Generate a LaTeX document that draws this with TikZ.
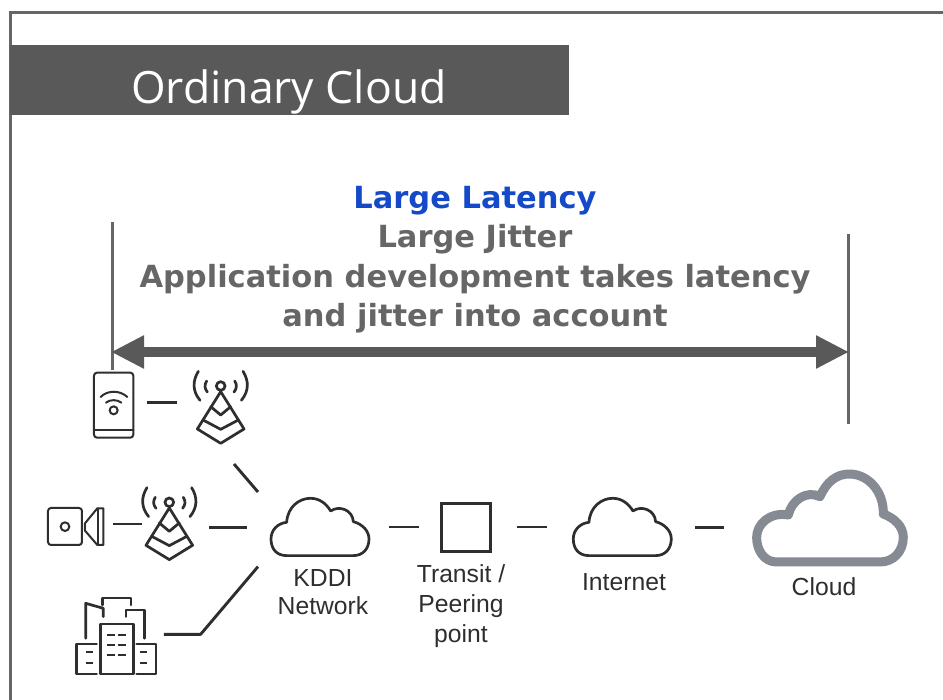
\documentclass[tikz,border=0pt]{standalone}
\usepackage{fontspec}
\setmainfont{Liberation Sans}
\newfontfamily\dv{DejaVu Sans}
\newfontfamily\os{Open Sans}
\usetikzlibrary{arrows.meta}
\definecolor{barc}{HTML}{595959}
\definecolor{framec}{HTML}{666666}
\definecolor{iconc}{HTML}{2E2E2E}
\definecolor{bluec}{HTML}{1449C8}
\definecolor{bigc}{HTML}{868A92}
\newcommand{\pxfont}[2]{\fontsize{#1}{#2}\selectfont}
\tikzset{
  x=1pt,y=-1pt,
  icon/.style={draw=iconc,line width=2.7pt,line join=round,line cap=round,fill=none},
  thinicon/.style={draw=iconc,line width=2pt,line join=round,line cap=round,fill=none},
  winicon/.style={draw=iconc,line width=2.2pt},
  link/.style={draw=iconc,line width=2.9pt,line join=round},
  rule/.style={draw=framec,line width=3pt},
  headline/.style={font=\dv\bfseries\pxfont{30.5}{30.5},text=framec,anchor=center,inner sep=0},
  caption/.style={font=\pxfont{24.7}{28},text=iconc,align=center,inner sep=0,anchor=center},
  tower/.pic={
    \begin{scope}[x=0.3333pt,y=-0.3333pt]
    \draw[icon] (0,0) circle (13);
    \draw[icon] (0,17) -- (-70,129) -- (0,172) -- (70,129) -- cycle;
    \draw[icon] (-30,62) -- (0,87) -- (30,62);
    \draw[icon] (-53,102) -- (0,130) -- (53,102);
    \draw[icon] (-42,-15) .. controls (-50,-3) and (-48,8) .. (-40,18);
    \draw[icon] (42,-15) .. controls (50,-3) and (48,8) .. (40,18);
    \draw[icon] (-67,-44) .. controls (-85,-15) and (-85,15) .. (-62,43);
    \draw[icon] (67,-44) .. controls (85,-15) and (85,15) .. (62,43);
    \end{scope}
  },
  smallcloud/.pic={
    \begin{scope}[x=0.3333pt,y=-0.3333pt]
    \draw[icon] (47,172) .. controls (15,172) and (0,150) .. (0,122)
      .. controls (0,95) and (20,75) .. (47,72)
      .. controls (50,25) and (85,0) .. (118,0)
      .. controls (145,0) and (165,15) .. (179,38)
      .. controls (205,20) and (245,35) .. (247,70)
      .. controls (275,78) and (294,98) .. (294,122)
      .. controls (294,152) and (275,172) .. (247,172) -- cycle;
    \end{scope}
  }
}
\begin{document}
\begin{tikzpicture}
\useasboundingbox (0,0) rectangle (943,700);
\fill[white] (0,0) rectangle (943,700);
% frame
\draw[rule] (10.5,700) -- (10.5,12.3) -- (943,12.3);
% title bar
\node[fill=barc,minimum width=559.5pt,minimum height=70pt,inner sep=0,anchor=north west] (bar) at (9.5,45) {};
\node[font=\os\pxfont{44.5}{44.5},text=white,inner sep=0,anchor=center] (title) at (289,91.5) {Ordinary Cloud};
% headings
\node[headline,text=bluec] (h1) at (475,200.5) {Large Latency};
\node[headline] (h2) at (475,239.5) {Large Jitter};
\node[headline] (h3) at (475,279.5) {Application development takes latency};
\node[headline] (h4) at (475,318.5) {and jitter into account};
% span
\coordinate (ltop) at (112,222); \coordinate (lbot) at (112,370);
\coordinate (rtop) at (848,234); \coordinate (rbot) at (848,424);
\coordinate (al) at (111,352); \coordinate (ar) at (849,352);
\draw[rule] (ltop) -- (lbot);
\draw[rule] (rtop) -- (rbot);
\draw[draw=barc,line width=10pt,{Triangle[width=31pt,length=33pt]}-{Triangle[width=31pt,length=33pt]}] (al) -- (ar);
% phone
\begin{scope}[shift={(30,360)},x=0.3333pt,y=-0.3333pt]
\draw[thinicon,rounded corners=3pt] (192,38) rectangle (310,233);
\draw[thinicon] (192,210) -- (310,210);
\draw[thinicon] (251,151) circle (12);
\draw[thinicon] (228,128) .. controls (240,118) and (262,118) .. (274,128);
\draw[thinicon] (212,111) .. controls (232,90) and (270,90) .. (292,111);
% camera
\draw[thinicon,rounded corners=3pt] (54,444) rectangle (156,555);
\draw[thinicon] (105,500) circle (13);
\draw[thinicon] (220,445) -- (220,555) -- (202,555) -- (165,512) -- (165,490) -- (202,445) -- cycle;
\draw[thinicon] (204,445) -- (204,555);
% buildings
\draw[icon] (211,792) rectangle (310,942);
\draw[icon] (200,852) -- (140,852) -- (140,942) -- (200,942);
\draw[icon] (320,852) -- (378,852) -- (378,942) -- (320,942);
\draw[icon] (167,835) -- (167,730) -- (220,745) -- (220,770);
\draw[icon] (217,735) -- (217,714) -- (303,714) -- (303,735);
\draw[icon] (288,770) -- (288,750) -- (343,750) -- (343,835);
\foreach \yy in {826,855,884} {
  \draw[winicon] (232,\yy) -- (256,\yy);
  \draw[winicon] (264,\yy) -- (288,\yy);
}
\foreach \yy in {877,908} {
  \draw[winicon] (167,\yy) -- (188,\yy);
  \draw[winicon] (331,\yy) -- (352,\yy);
}
\end{scope}
% towers
\pic at (220.7,386) {tower};
\pic at (169.3,502.3) {tower};
% clouds and square
\pic at (271,498.3) {smallcloud};
\pic at (573.3,498.3) {smallcloud};
\node[draw=iconc,line width=2.8pt,minimum size=48.5pt,inner sep=0] (transit) at (466,527.5) {};
\draw[draw=bigc,line width=9pt,line join=round,shift={(560,450)},x=0.3333pt,y=-0.3333pt]
  (650,336) .. controls (612,336) and (590,300) .. (590,262)
  .. controls (590,222) and (630,185) .. (685,195)
  .. controls (695,150) and (740,120) .. (780,140)
  .. controls (800,95) and (830,72) .. (868,72)
  .. controls (925,72) and (972,125) .. (970,192)
  .. controls (1005,205) and (1030,230) .. (1030,262)
  .. controls (1030,305) and (1000,336) .. (960,336) -- cycle;
% captions
\node[caption] (kddi) at (323,592.5) {KDDI\\Network};
\node[caption,font=\pxfont{24.7}{30}] (peer) at (461,606.5) {Transit /\\Peering\\point};
\node[caption] (inet) at (624,582.5) {Internet};
\node[caption] (cloud) at (824,586.5) {Cloud};
% connectors
\begin{scope}[shift={(30,360)},x=0.3333pt,y=-0.3333pt]
\coordinate (a1) at (352,127); \coordinate (a2) at (440,127);
\coordinate (b1) at (612,312); \coordinate (b2) at (684,396);
\coordinate (c1) at (248,492); \coordinate (c2) at (336,492);
\coordinate (d1) at (538,502); \coordinate (d2) at (650,502);
\coordinate (e1) at (402,823); \coordinate (e2) at (512,823); \coordinate (e3) at (684,620);
\end{scope}
\coordinate (f1) at (389.3,527); \coordinate (f2) at (418.7,527);
\coordinate (g1) at (516.7,527); \coordinate (g2) at (547,527);
\coordinate (i1) at (695,527.3); \coordinate (i2) at (724.3,527.3);
\draw[link] (a1) -- (a2);
\draw[link] (b1) -- (b2);
\draw[link] (c1) -- (c2);
\draw[link] (d1) -- (d2);
\draw[link] (e1) -- (e2) -- (e3);
\draw[link] (f1) -- (f2);
\draw[link] (g1) -- (g2);
\draw[link] (i1) -- (i2);
\end{tikzpicture}
\end{document}
